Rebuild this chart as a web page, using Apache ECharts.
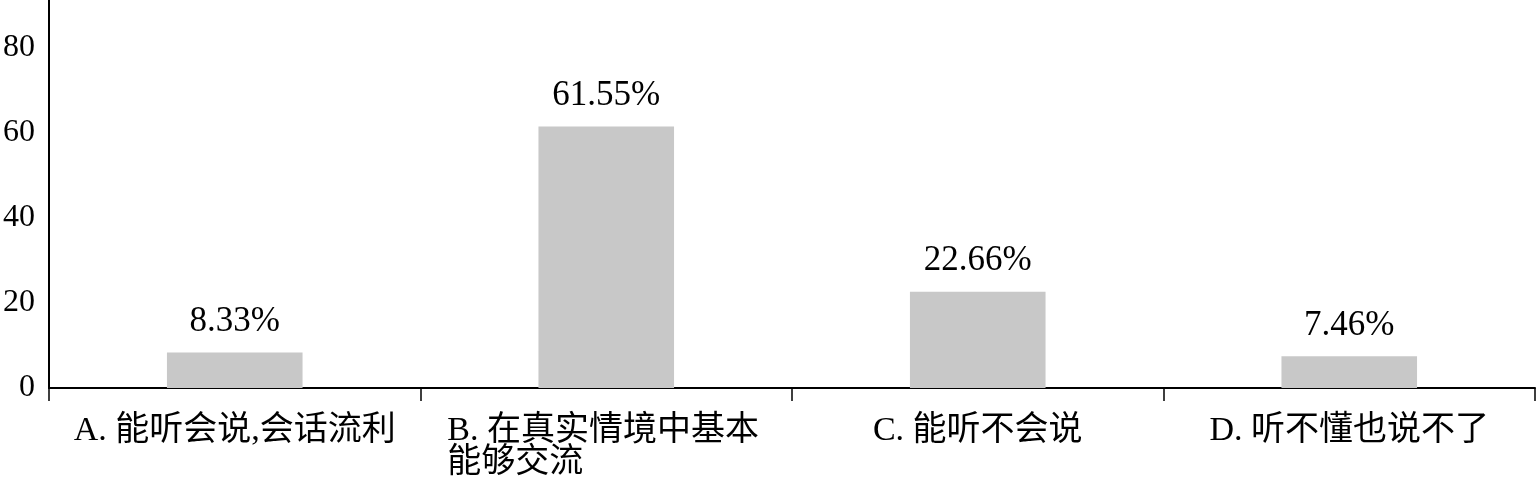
<!DOCTYPE html>
<html><head><meta charset="utf-8">
<script src="https://cdn.jsdelivr.net/npm/echarts@6/dist/echarts.min.js"></script>
<style>html,body{margin:0;padding:0;background:#fff}#c{width:1536px;height:487px}</style>
</head><body><div id="c"></div>
<script>
const categories = ['A. 能听会说,会话流利', 'B. 在真实情境中基本\n能够交流', 'C. 能听不会说', 'D. 听不懂也说不了'];
const values = [8.33, 61.55, 22.66, 7.46];
const yTicks = [0, 20, 40, 60, 80];

const FONT = '"Liberation Serif", "Noto Sans CJK SC", serif';
const chart = echarts.init(document.getElementById('c'));
chart.setOption({
  animation: false,
  backgroundColor: '#fff',
  grid: { left: 49, right: 1, top: 0, bottom: 99, containLabel: false },
  xAxis: {
    type: 'category',
    data: categories,
    axisLine: { lineStyle: { color: '#000', width: 2 } },
    axisTick: { show: true, length: 13, lineStyle: { color: '#000', width: 1.5 } },
    axisLabel: {
      interval: 0, margin: 27, color: '#000', fontFamily: FONT, fontSize: 34, lineHeight: 32,
      formatter: function (v) {
        if (v.indexOf('\n') < 0) return v;
        return v.split('\n').map(s => '{w|' + s + '}').join('\n');
      },
      rich: { w: { width: 318, align: 'left', fontFamily: FONT, fontSize: 34, lineHeight: 32, color: '#000' } }
    }
  },
  yAxis: {
    type: 'value',
    min: yTicks[0], max: 91.3, interval: 20,
    axisLine: { show: true, lineStyle: { color: '#000', width: 2 } },
    axisTick: { show: false },
    splitLine: { show: false },
    axisLabel: { showMaxLabel: false, margin: 14, color: '#000', fontFamily: FONT, fontSize: 32 }
  },
  series: [{
    type: 'bar',
    data: values,
    barWidth: '36.5%',
    itemStyle: { color: '#c8c8c8' },
    label: {
      show: true, position: 'top', distance: 13, color: '#000', fontFamily: FONT, fontSize: 35,
      formatter: p => p.value.toFixed(2) + '%'
    }
  }]
});
</script></body></html>
